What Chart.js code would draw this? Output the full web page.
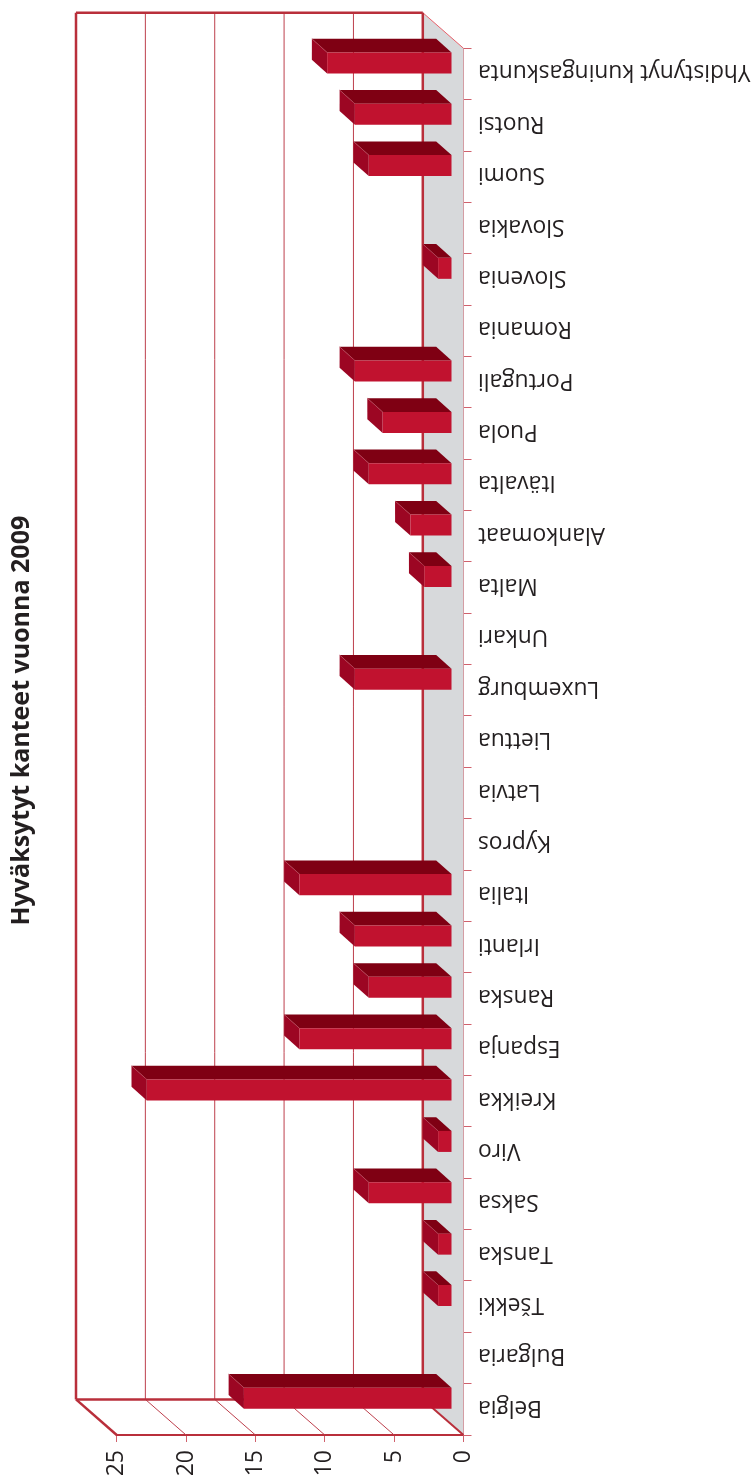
<!DOCTYPE html>
<html lang="fi">
<head>
<meta charset="utf-8">
<title>Hyväksytyt kanteet vuonna 2009</title>
<script src="https://cdn.jsdelivr.net/npm/chart.js@4"></script>
<style>
    html, body { margin: 0; padding: 0; background: #ffffff; }
    canvas { display: block; }
</style>
</head>
<body>
<canvas id="caseChart" width="756" height="1479"></canvas>
<script>
// --------------------------------------------
// Data
// --------------------------------------------

const chartTitle = "Hyväksytyt kanteet vuonna 2009";

const countries = [
    "Belgia", "Bulgaria", "Tšekki", "Tanska", "Saksa", "Viro", "Kreikka",
    "Espanja", "Ranska", "Irlanti", "Italia", "Kypros", "Latvia", "Liettua",
    "Luxemburg", "Unkari", "Malta", "Alankomaat", "Itävalta", "Puola",
    "Portugali", "Romania", "Slovenia", "Slovakia", "Suomi", "Ruotsi",
    "Yhdistynyt kuningaskunta"
];

const acceptedCases = [
    15, 0, 1, 1, 6, 1, 22,
    11, 6, 7, 11, 0, 0, 0,
    7, 0, 2, 3, 6, 5,
    7, 0, 1, 0, 6, 7,
    9
];

const valueTicks = [0, 5, 10, 15, 20, 25];


// --------------------------------------------
// Colours and 3D depth
// --------------------------------------------

const axisRed = "#b92f3b";
const tickRed = "#d0616c";
const wallDepth = { x: -40.7, y: -35.6 };
const barShift = { x: -11.5, y: -11.1 };
const barDepth = { x: -15.3, y: -13.7 };

function strokeLine(ctx, x1, y1, x2, y2, color, width) {
    ctx.strokeStyle = color;
    ctx.lineWidth = width;
    ctx.beginPath();
    ctx.moveTo(x1, y1);
    ctx.lineTo(x2, y2);
    ctx.stroke();
}

function fillShape(ctx, points, color) {
    ctx.fillStyle = color;
    ctx.beginPath();
    points.forEach(p => ctx.lineTo(p[0], p[1]));
    ctx.closePath();
    ctx.fill();
}


// --------------------------------------------
// Walls and floor behind the bars
// --------------------------------------------

const wallPlugin = {
    id: "wall",

    afterLayout(chart) {
        // title sits a bit above the middle of the page
        chart.titleBlock.top -= 43;
        chart.titleBlock.bottom -= 43;
    },

    beforeDraw(chart) {
        // country labels sit slightly above the band centre
        chart.scales.y.getLabelItems().forEach(item => {
            item.options.translation[1] -= 2;
        });
    },

    beforeDatasetsDraw(chart) {
        const ctx = chart.ctx;
        const area = chart.chartArea;
        const dx = wallDepth.x;
        const dy = wallDepth.y;
        const backLeft = area.left + dx;
        const backRight = area.right + dx;
        const backTop = area.top + dy;
        const backBottom = area.bottom + dy;

        ctx.save();

        // grey side wall
        fillShape(ctx, [
            [backRight, backTop],
            [area.right, area.top],
            [area.right, area.bottom],
            [backRight, backBottom]
        ], "#d7d9db");

        strokeLine(ctx, backRight, backTop, area.right, area.top, "#e8606a", 1);

        // grid lines on the back wall and on the floor
        valueTicks.slice(1, -1).forEach(value => {
            const x = chart.scales.x.getPixelForValue(value);
            strokeLine(ctx, x + dx, backTop, x + dx, backBottom, "#bd3f4c", 1);
            strokeLine(ctx, x, area.bottom, x + dx, backBottom, "#bd3f4c", 1);
        });

        // wall outline
        strokeLine(ctx, backLeft, backTop, backRight, backTop, axisRed, 2.5);
        strokeLine(ctx, backLeft, backTop, backLeft, backBottom, axisRed, 2.5);
        strokeLine(ctx, backLeft, backBottom, backRight, backBottom, axisRed, 2.5);
        strokeLine(ctx, backRight, backTop, backRight, backBottom, axisRed, 2.5);
        strokeLine(ctx, backLeft, backBottom, area.left, area.bottom, axisRed, 2.5);
        strokeLine(ctx, backRight, backBottom, area.right, area.bottom, axisRed, 2);

        ctx.restore();
    },

    beforeDatasetDraw(chart, args) {
        const ctx = chart.ctx;

        ctx.save();
        ctx.translate(barShift.x, barShift.y);

        // top and end faces of each bar
        args.meta.data.forEach((bar, i) => {
            if (!acceptedCases[i]) {
                return;
            }

            const props = bar.getProps(["x", "y", "base", "height"], true);
            const top = props.y - props.height / 2;
            const bottom = props.y + props.height / 2;
            const dx = barDepth.x;
            const dy = barDepth.y;

            fillShape(ctx, [
                [props.x, top],
                [props.base, top],
                [props.base + dx, top + dy],
                [props.x + dx, top + dy]
            ], "#7f0013");

            fillShape(ctx, [
                [props.x, top],
                [props.x, bottom],
                [props.x + dx, bottom + dy],
                [props.x + dx, top + dy]
            ], "#9c0623");

            strokeLine(ctx, props.x, top, props.x + dx, top + dy, "#b9485a", 0.6);
        });
    },

    afterDatasetDraw(chart) {
        chart.ctx.restore();
    }
};


// --------------------------------------------
// Chart
// --------------------------------------------

new Chart(document.getElementById("caseChart"), {

    type: "bar",

    data: {
        labels: countries,
        datasets: [{
            label: chartTitle,
            data: acceptedCases,
            backgroundColor: "#c1122f",
            borderWidth: 0,
            categoryPercentage: 1,
            barPercentage: 0.409,
            clip: false
        }]
    },

    options: {
        indexAxis: "y",
        responsive: false,
        animation: false,

        layout: {
            padding: { left: 0, right: 0, top: 48.3, bottom: 0 }
        },

        plugins: {
            legend: { display: false },
            tooltip: { enabled: false },
            title: {
                display: true,
                position: "left",
                text: chartTitle,
                color: "#231f20",
                font: { family: "'Open Sans'", size: 25, weight: "bold", lineHeight: 1.2 },
                padding: { top: 7, bottom: 79.7 }
            }
        },

        scales: {
            x: {
                type: "linear",
                position: "bottom",
                reverse: true,
                min: 0,
                max: 25,
                afterBuildTicks: scale => {
                    scale.ticks = valueTicks.map(value => ({ value }));
                },
                afterFit: scale => {
                    scale.height = 44;
                    scale.paddingLeft = 0;
                    scale.paddingRight = 0;
                },
                border: { color: axisRed, width: 2 },
                grid: {
                    drawOnChartArea: false,
                    color: tickRed,
                    tickLength: 7
                },
                ticks: {
                    minRotation: 90,
                    maxRotation: 90,
                    padding: 8,
                    color: "#231f20",
                    font: { family: "'Open Sans'", size: 23 }
                }
            },

            y: {
                type: "category",
                position: "right",
                reverse: true,
                afterFit: scale => {
                    scale.width = 292.5;
                    scale.paddingTop = 0;
                    scale.paddingBottom = 0;
                },
                border: { color: tickRed, width: 1 },
                grid: {
                    drawOnChartArea: false,
                    color: tickRed,
                    tickLength: 8
                },
                ticks: {
                    autoSkip: false,
                    minRotation: 180,
                    maxRotation: 180,
                    mirror: true,
                    crossAlign: "near",
                    padding: 14.5,
                    color: "#231f20",
                    font: { family: "'Open Sans'", size: 22.8 }
                }
            }
        }
    },

    plugins: [wallPlugin]

});
</script>
</body>
</html>
